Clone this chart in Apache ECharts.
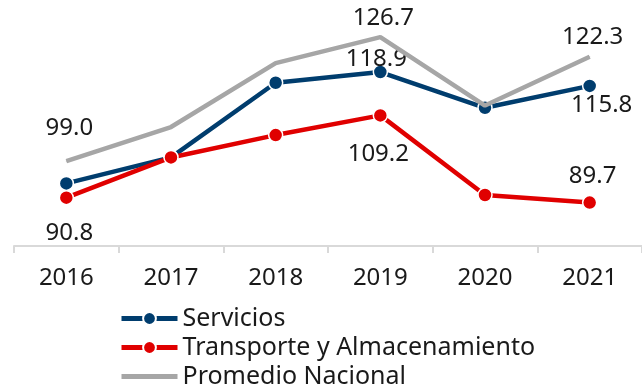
<!DOCTYPE html>
<html>
<head>
<meta charset="utf-8">
<script src="https://cdn.jsdelivr.net/npm/echarts@6/dist/echarts.min.js"></script>
<style>
  html, body { margin: 0; padding: 0; background: #ffffff; }
  #chart { width: 642px; height: 387px; }
</style>
</head>
<body>
<div id="chart"></div>
<script>
// Index values by year
const years = ['2016', '2017', '2018', '2019', '2020', '2021'];
const servicios = [94.0, 99.8, 116.5, 118.9, 110.9, 115.8];
const transporte = [90.8, 99.8, 104.8, 109.2, 91.4, 89.7];
const promedio = [99.0, 106.6, 120.9, 126.7, 111.4, 122.3];

// Which points carry a value label, and where the label sits relative to the point
const serviciosLabels = { 3: [-4, -13], 5: [12, 19] };
const transporteLabels = { 0: [3, 35], 3: [-2, 39], 5: [3, -26] };
const promedioLabels = { 0: [3, -33], 3: [3, -19], 5: [3, -20] };

const FONT = '"Noto Sans", sans-serif';

function withLabels(values, labelMap) {
  return values.map((v, i) => {
    if (!labelMap[i]) return v;
    return {
      value: v,
      label: {
        show: true,
        position: 'inside',
        offset: labelMap[i],
        formatter: (p) => Number(p.value).toFixed(1),
        color: '#1a1a1a',
        fontSize: 24,
        fontFamily: FONT
      }
    };
  });
}

const chart = echarts.init(document.getElementById('chart'), null, { renderer: 'canvas' });

chart.setOption({
  animation: false,
  backgroundColor: '#ffffff',
  grid: { left: 14, right: -2, top: 0, bottom: 141, containLabel: false },
  xAxis: {
    type: 'category',
    data: years,
    boundaryGap: true,
    axisLine: { show: true, lineStyle: { color: '#d9d9d9', width: 2 } },
    axisTick: { show: true, length: 7, lineStyle: { color: '#d9d9d9', width: 2 } },
    axisLabel: { color: '#1a1a1a', fontSize: 24, fontFamily: FONT, margin: 20 }
  },
  yAxis: {
    type: 'value',
    min: 80,
    max: 135,
    show: false,
    splitLine: { show: false }
  },
  legend: {
    orient: 'vertical',
    left: 119,
    top: 306,
    width: 480,
    height: 100,
    padding: 0,
    itemWidth: 56,
    itemHeight: 16,
    itemGap: 4,
    lineStyle: { width: 5 },
    textStyle: { color: '#1a1a1a', fontSize: 25, lineHeight: 22, fontFamily: FONT },
    data: [
      { name: 'Servicios' },
      { name: 'Transporte y Almacenamiento' },
      { name: 'Promedio Nacional', itemStyle: { color: 'rgba(0,0,0,0)', borderWidth: 0 } }
    ]
  },
  series: [
    {
      name: 'Servicios',
      type: 'line',
      data: withLabels(servicios, serviciosLabels),
      symbol: 'circle',
      symbolSize: 14,
      lineStyle: { color: '#003d6e', width: 4.5 },
      itemStyle: { color: '#003d6e', borderColor: '#ffffff', borderWidth: 1.5 },
      z: 2
    },
    {
      name: 'Transporte y Almacenamiento',
      type: 'line',
      data: withLabels(transporte, transporteLabels),
      symbol: 'circle',
      symbolSize: 14,
      lineStyle: { color: '#e00000', width: 4.5 },
      itemStyle: { color: '#e00000', borderColor: '#ffffff', borderWidth: 1.5 },
      z: 3
    },
    {
      name: 'Promedio Nacional',
      type: 'line',
      data: withLabels(promedio, promedioLabels),
      symbol: 'circle',
      symbolSize: 1,
      lineStyle: { color: '#a6a6a6', width: 4.5 },
      itemStyle: { color: '#a6a6a6' },
      z: 4
    }
  ]
});
</script>
</body>
</html>
